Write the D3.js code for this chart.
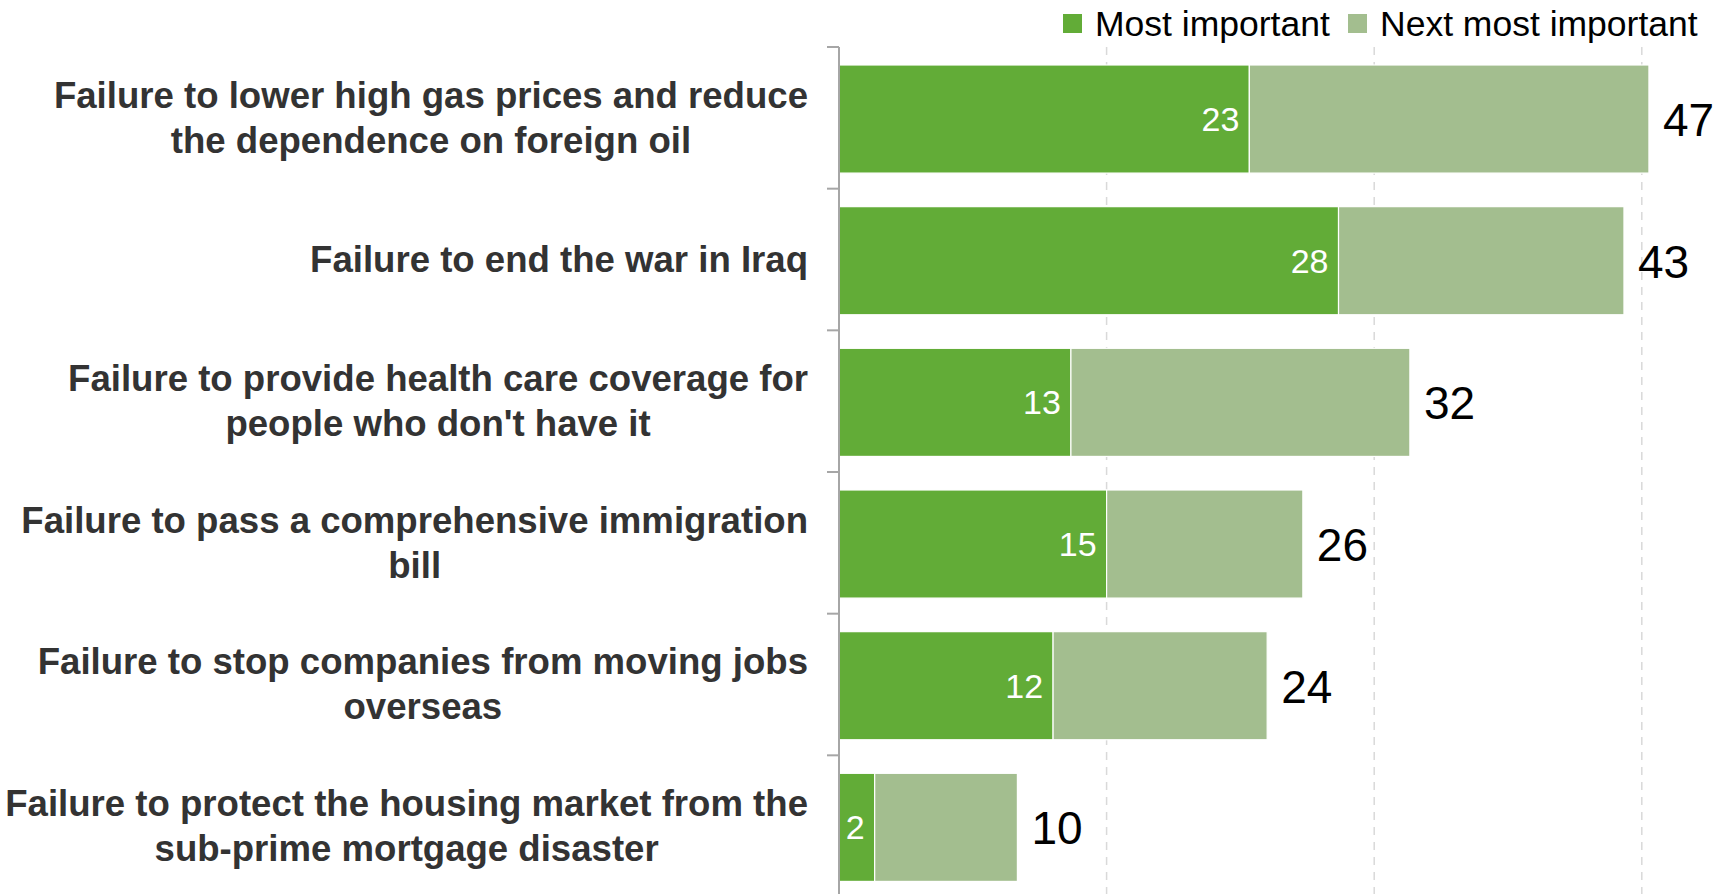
<!DOCTYPE html>
<html>
<head>
<meta charset="utf-8">
<script src="https://cdn.jsdelivr.net/npm/d3@7"></script>
<style>
  html, body { margin: 0; padding: 0; background: #fff; }
  svg { display: block; }
  text { font-family: "Liberation Sans", Arial, sans-serif; }
</style>
</head>
<body>
<svg id="chart" width="1731" height="894"></svg>
<script>
// ---- data ----
const categories = [
  "Failure to lower high gas prices and reduce\nthe dependence on foreign oil",
  "Failure to end the war in Iraq",
  "Failure to provide health care coverage for\npeople who don't have it",
  "Failure to pass a comprehensive immigration\nbill",
  "Failure to stop companies from moving jobs\noverseas",
  "Failure to protect the housing market from the\nsub-prime mortgage disaster"
];
const mostImportant = [23, 28, 13, 15, 12, 2];
const nextMostImportant = [22.4, 16, 19, 11, 12, 8];
const totalLabels = [47, 43, 32, 26, 24, 10];
const seriesNames = ["Most important", "Next most important"];
const gridTicks = [15, 30, 45];

// ---- layout ----
const colors = ["#62ac37", "#a3be8f"];
const svg = d3.select("#chart");
const x = d3.scaleLinear().domain([0, 50]).range([839, 1731]);
const y = d3.scaleBand().domain(d3.range(categories.length))
  .range([48.2, 898.2]).paddingInner(0.237).paddingOuter(0.1185);

// gridlines
svg.append("g").selectAll("line").data(gridTicks).join("line")
  .attr("x1", d => x(d)).attr("x2", d => x(d))
  .attr("y1", 47).attr("y2", 894)
  .attr("stroke", "#d9d9d9").attr("stroke-width", 1.5)
  .attr("stroke-dasharray", "8,7");

// bars
const rows = categories.map((c, i) => ({
  i, a: mostImportant[i], b: nextMostImportant[i], t: totalLabels[i]
}));
const g = svg.append("g");
g.selectAll("rect.a").data(rows).join("rect").attr("class", "a")
  .attr("x", x(0)).attr("y", d => y(d.i))
  .attr("width", d => x(d.a) - x(0)).attr("height", y.bandwidth())
  .attr("fill", colors[0]).attr("stroke", "#fff").attr("stroke-width", 1.2);
g.selectAll("rect.b").data(rows).join("rect").attr("class", "b")
  .attr("x", d => x(d.a)).attr("y", d => y(d.i))
  .attr("width", d => x(d.a + d.b) - x(d.a)).attr("height", y.bandwidth())
  .attr("fill", colors[1]).attr("stroke", "#fff").attr("stroke-width", 1.2);

// inner labels
g.selectAll("text.in").data(rows).join("text").attr("class", "in")
  .attr("x", d => x(d.a) - 10)
  .attr("y", d => y(d.i) + y.bandwidth() / 2 + 12)
  .attr("text-anchor", "end").attr("fill", "#fff")
  .attr("font-size", 34).text(d => d.a);

// total labels
g.selectAll("text.tot").data(rows).join("text").attr("class", "tot")
  .attr("x", d => x(d.a + d.b) + 14)
  .attr("y", d => y(d.i) + y.bandwidth() / 2 + 17)
  .attr("fill", "#000").attr("font-size", 46).text(d => d.t);

// axis line + ticks
svg.append("line").attr("x1", 839).attr("x2", 839).attr("y1", 47).attr("y2", 894)
  .attr("stroke", "#a6a6a6").attr("stroke-width", 2);
const bounds = d3.range(categories.length + 1).map(i => 47 + i * y.step());
svg.append("g").selectAll("line").data(bounds).join("line")
  .attr("x1", 827).attr("x2", 839).attr("y1", d => d).attr("y2", d => d)
  .attr("stroke", "#a6a6a6").attr("stroke-width", 2);

// category labels
const labelRight = 808;
categories.forEach((c, i) => {
  const lines = c.split("\n");
  const t = svg.append("text").attr("font-size", 36.6).attr("font-weight", "bold")
    .attr("fill", "#333").attr("text-anchor", "middle");
  const cy = y(i) + y.bandwidth() / 2;
  const spans = lines.map((ln, k) => t.append("tspan")
    .attr("y", cy + 11 + (k - (lines.length - 1) / 2) * 45).text(ln));
  const maxW = d3.max(spans, s => s.node().getComputedTextLength());
  spans.forEach(s => s.attr("x", labelRight - maxW / 2));
});

// legend
const legX = [1063, 1348];
seriesNames.forEach((n, i) => {
  svg.append("rect").attr("x", legX[i]).attr("y", 14).attr("width", 19).attr("height", 19)
    .attr("fill", colors[i]);
  svg.append("text").attr("x", legX[i] + 32).attr("y", 36)
    .attr("font-size", 35.5).attr("fill", "#000").text(n);
});
</script>
</body>
</html>
